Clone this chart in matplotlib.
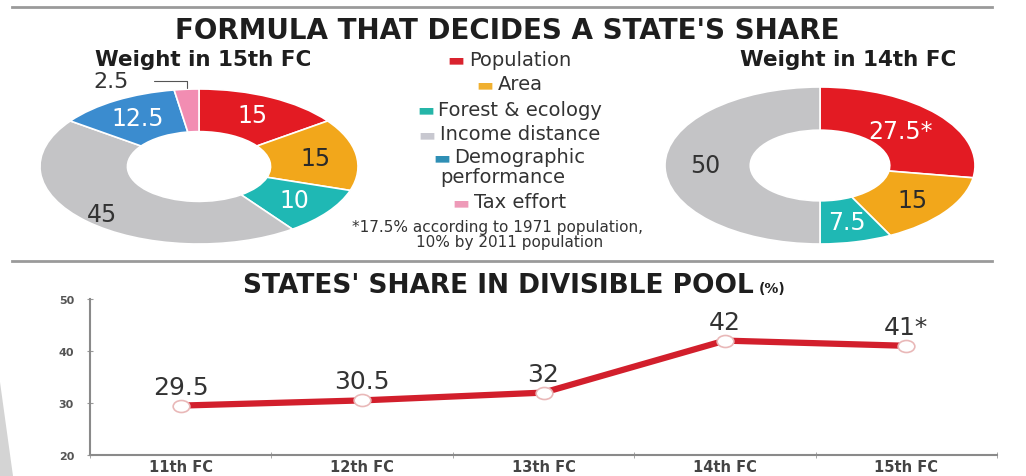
import matplotlib
matplotlib.use('Agg')
import matplotlib.pyplot as plt
import numpy as np
from matplotlib.patches import Polygon
from matplotlib.path import Path

# data
factors = ['Population', 'Area', 'Forest & ecology', 'Income distance',
           'Demographic\nperformance', 'Tax effort']
colors = ['#e31b23', '#f2a71b', '#1fb8b4', '#c4c4c6', '#3b8ccf', '#f28db2']
legend_colors = ['#d9232e', '#f0b030', '#25b5a8', '#c8c8d0', '#2f8fb5', '#ee9ab8']
weight_15 = [15, 15, 10, 45, 12.5, 2.5]
labels_15 = ['15', '15', '10', '45', '12.5', '2.5']
weight_14 = [27.5, 15, 7.5, 50, 0, 0]
labels_14 = ['27.5*', '15', '7.5', '50', '', '']
label_colors = ['white', '#2a2a2a', 'white', '#333333', 'white', '#333333']

fcs = ['11th FC', '12th FC', '13th FC', '14th FC', '15th FC']
share = [29.5, 30.5, 32, 42, 41]
share_labels = ['29.5', '30.5', '32', '42', '41*']

W, H = 1026, 477
fig = plt.figure(figsize=(W / 100, H / 100), dpi=100)
fig.patch.set_facecolor('white')


def px_axes(x0, y0, x1, y1):
    return fig.add_axes([x0 / W, 1 - y1 / H, (x1 - x0) / W, (y1 - y0) / H])


def donut(ax, vals):
    keep = [i for i, v in enumerate(vals) if v > 0]
    wedges, _ = ax.pie([vals[i] for i in keep], colors=[colors[i] for i in keep],
                       startangle=90, counterclock=False, radius=1,
                       wedgeprops=dict(width=0.55, edgecolor='white', linewidth=1.2))
    ax.set_aspect('auto')
    ax.set_xlim(-1, 1)
    ax.set_ylim(-1, 1)
    out = []
    for w, i in zip(wedges, keep):
        a = np.deg2rad((w.theta1 + w.theta2) / 2)
        out.append((i, np.cos(a), np.sin(a)))
    return out


# left donut (15th FC)
ax1 = px_axes(40, 90, 358, 245)
for i, c, s in donut(ax1, weight_15):
    if weight_15[i] < 5:
        ax1.annotate(labels_15[i], xy=(c, s * 1.02), xytext=(-0.55, 1.1),
                     ha='center', va='center', fontsize=16, color='#333333',
                     annotation_clip=False,
                     arrowprops=dict(arrowstyle='-', color='#555555', lw=0.8,
                                     shrinkA=16, shrinkB=0,
                                     connectionstyle='angle,angleA=0,angleB=90,rad=0'))
    else:
        r = 0.86 if weight_15[i] > 40 else 0.74
        ax1.text(r * c, r * s, labels_15[i], ha='center', va='center',
                 fontsize=17, color=label_colors[i])

# right donut (14th FC)
ax2 = px_axes(665, 88, 975, 245)
for i, c, s in donut(ax2, weight_14):
    r = 0.68 if i == 0 else 0.74
    ax2.text(r * c, r * s, labels_14[i], ha='center', va='center',
             fontsize=17, color=label_colors[i])

# line chart
ax3 = px_axes(90, 300, 997, 456)
x = np.arange(len(fcs))
ell = Path.unit_circle()
ell = Path(ell.vertices * np.array([1.0, 0.72]), ell.codes)
ax3.plot(x, share, color='#d21f2c', lw=4.5, solid_capstyle='round', zorder=3)
ax3.plot(x, share, ls='none', marker=ell, ms=12, mfc='white', mec='#e9b8b8',
         mew=1.2, zorder=4)
for xi, yi, lab in zip(x, share, share_labels):
    ax3.annotate(lab, (xi, yi), xytext=(0, 5), textcoords='offset points',
                 ha='center', va='bottom', fontsize=18, color='#333333')
ax3.set_xlim(-0.5, 4.5)
ax3.set_ylim(20, 50)
ax3.set_yticks([20, 30, 40, 50])
ax3.set_xticks(x)
ax3.set_xticklabels(fcs, fontsize=10.5, fontweight='bold', color='#444444')
ax3.set_xticks(np.arange(-0.5, 5, 1), minor=True)
ax3.tick_params(axis='x', which='major', length=0, pad=3)
ax3.tick_params(axis='x', which='minor', length=4, direction='inout', color='#999999')
ax3.tick_params(axis='y', length=5, direction='inout', color='#999999',
                labelsize=8, labelcolor='#555555', pad=9)
for lab in ax3.get_yticklabels():
    lab.set_fontweight('bold')
for sp in ['top', 'right']:
    ax3.spines[sp].set_visible(False)
for sp in ['left', 'bottom']:
    ax3.spines[sp].set_color('#8a8a8a')
    ax3.spines[sp].set_linewidth(1.5)

# overlay for titles, legend, rules
ov = fig.add_axes([0, 0, 1, 1], zorder=10)
ov.set_xlim(0, W)
ov.set_ylim(H, 0)
ov.axis('off')
ov.patch.set_visible(False)

ov.plot([12, 992], [8, 8], color='#9a9a9a', lw=2)
ov.plot([12, 992], [262, 262], color='#9a9a9a', lw=2)
ov.add_patch(Polygon([[0, 383], [13, 477], [0, 477]], closed=True,
                     facecolor='#d4d4d4', edgecolor='none'))

ov.text(507, 31, "FORMULA THAT DECIDES A STATE'S SHARE", ha='center', va='center',
        fontsize=20, fontweight='heavy', color='#1e1e1e')
ov.text(203, 60, 'Weight in 15th FC', ha='center', va='center',
        fontsize=15.5, fontweight='heavy', color='#1e1e1e')
ov.text(848, 60, 'Weight in 14th FC', ha='center', va='center',
        fontsize=15.5, fontweight='heavy', color='#1e1e1e')

leg_y = [60, 85, 110, 135, 158, 203]
for lab, col, yy in zip(factors, legend_colors, leg_y):
    lines = lab.split('\n')
    t = ov.text(520, yy, lines[0], ha='center', va='center', fontsize=14,
                color='#333333')
    ov.annotate('\u25ac', xy=(0, 0.5), xycoords=t, xytext=(-3, 0),
                textcoords='offset points', ha='right', va='center',
                fontsize=13, color=col)
    if len(lines) > 1:
        ov.text(503, yy + 20, lines[1], ha='center', va='center', fontsize=14,
                color='#333333')

ov.text(497, 228, '*17.5% according to 1971 population,', ha='center', va='center',
        fontsize=11, color='#333333')
ov.text(510, 243, '10% by 2011 population', ha='center', va='center',
        fontsize=11, color='#333333')

t2 = ov.text(498, 286, "STATES' SHARE IN DIVISIBLE POOL", ha='center', va='center',
             fontsize=19, fontweight='heavy', color='#1e1e1e')
ov.annotate('(%)', xy=(1, 0.1), xycoords=t2, xytext=(4, 0), textcoords='offset points',
            ha='left', va='bottom', fontsize=10, fontweight='bold', color='#1e1e1e')

fig.savefig('out.png', dpi=100)
